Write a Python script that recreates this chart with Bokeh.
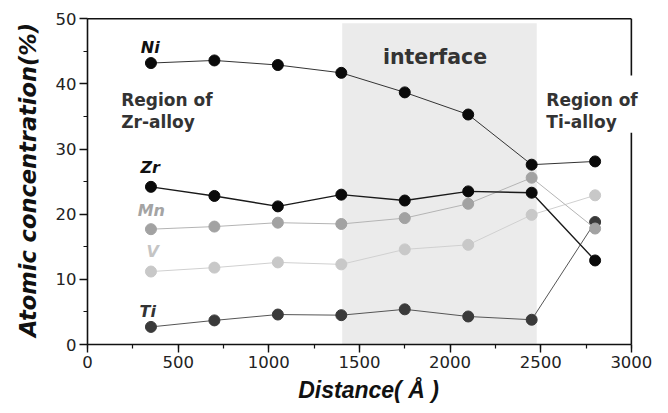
from bokeh.plotting import figure
from bokeh.models import Range1d, Label, BoxAnnotation, SingleIntervalTicker
from bokeh.embed import file_html
from bokeh.resources import INLINE

# ---- data ----
distance = [350, 700, 1050, 1400, 1750, 2100, 2450, 2800]
ni = [43.2, 43.6, 42.9, 41.7, 38.7, 35.3, 27.6, 28.1]
zr = [24.2, 22.8, 21.2, 23.0, 22.1, 23.5, 23.3, 12.9]
mn = [17.7, 18.1, 18.7, 18.5, 19.4, 21.6, 25.6, 17.8]
v = [11.2, 11.8, 12.6, 12.3, 14.6, 15.3, 19.9, 22.9]
ti = [2.7, 3.7, 4.6, 4.5, 5.4, 4.3, 3.8, 18.8]
interface_start, interface_end = 1405, 2478
series_names = ["Ti", "V", "Mn", "Zr", "Ni"]
series_values = [ti, v, mn, zr, ni]
x_max, y_max = 3000, 50

# ---- styles ----
marker_colors = {"Ni": "#0a0a0a", "Zr": "#0a0a0a", "Mn": "#a2a2a2", "V": "#c8c8c8", "Ti": "#3a3a3a"}
line_colors = {"Ni": "#333333", "Zr": "#1a1a1a", "Mn": "#b4b4b4", "V": "#d0d0d0", "Ti": "#555555"}
line_widths = {"Ni": 1.0, "Zr": 1.4, "Mn": 1.0, "V": 1.0, "Ti": 1.0}
label_colors = {"Ni": "#111111", "Zr": "#111111", "Mn": "#a4a4a4", "V": "#c4c4c4", "Ti": "#333333"}
label_pos = {"Ni": (346, 45.6), "Zr": (346, 27.1), "Mn": (352, 20.6), "V": (360, 14.3), "Ti": (332, 5.1)}

p = figure(width=660, height=405, output_backend="svg", toolbar_location=None,
           x_range=Range1d(0, 3100), y_range=Range1d(0, 50.5),
           min_border_left=87, min_border_right=11, min_border_top=15, min_border_bottom=59)
p.background_fill_color = "white"
p.border_fill_color = "white"
p.grid.visible = False
p.outline_line_color = None

# interface shading
p.add_layout(BoxAnnotation(left=interface_start, right=interface_end, bottom=0, top=49.3,
                           fill_color="#ebebeb", fill_alpha=1.0, line_color=None, level="underlay"))

# top and right frame lines (right one interrupted by the Ti-alloy text)
p.segment(x0=[0, x_max, x_max], y0=[y_max, 0, 41.3], x1=[x_max, x_max, x_max], y1=[y_max, 32.5, y_max],
          line_color="#111111", line_width=1.6)

for name, vals in zip(series_names, series_values):
    p.line(distance, vals, line_color=line_colors[name], line_width=line_widths[name])
    p.scatter(distance, vals, size=11, fill_color=marker_colors[name], line_color=marker_colors[name])

for name in series_names:
    x, y = label_pos[name]
    p.add_layout(Label(x=x, y=y, text=name, text_font="DejaVu Sans", text_font_style="bold italic",
                       text_font_size="16px", text_color=label_colors[name],
                       text_align="center", text_baseline="middle"))

# region texts
region_font = dict(text_font="DejaVu Sans", text_font_style="bold", text_font_size="17px",
                   text_color="#333333", text_baseline="alphabetic")
p.add_layout(Label(x=186, y=37.5, text="Region of", **region_font))
p.add_layout(Label(x=186, y=34.1, text="Zr-alloy", **region_font))
p.add_layout(Label(x=2531, y=37.5, text="Region of", **region_font))
p.add_layout(Label(x=2531, y=34.1, text="Ti-alloy", **region_font))
p.add_layout(Label(x=1917, y=44.1, text="interface", text_font="DejaVu Sans", text_font_style="bold",
                   text_font_size="20.5px", text_color="#333333", text_align="center",
                   text_baseline="alphabetic"))

# axes
p.xaxis.ticker = SingleIntervalTicker(interval=500, num_minor_ticks=2)
p.yaxis.ticker = SingleIntervalTicker(interval=10, num_minor_ticks=2)
p.xaxis.bounds = (0, x_max)
p.yaxis.bounds = (0, y_max)
for ax in (p.xaxis[0], p.yaxis[0]):
    ax.axis_line_width = 1.6
    ax.axis_line_color = "#111111"
    ax.major_tick_line_color = "#111111"
    ax.minor_tick_line_color = "#111111"
    ax.major_tick_line_width = 1.4
    ax.minor_tick_line_width = 1.2
    ax.major_tick_in = 0
    ax.major_tick_out = 8
    ax.minor_tick_in = 0
    ax.minor_tick_out = 4
    ax.major_label_text_font = "DejaVu Sans"
    ax.major_label_text_font_size = "16.5px"
    ax.major_label_text_color = "#222222"
    ax.major_label_standoff = 3
    ax.axis_label_text_font_style = "bold italic"
    ax.axis_label_text_color = "#111111"

p.xaxis.axis_label = "Distance( Å )"
p.xaxis.axis_label_text_font = "Liberation Sans"
p.xaxis.axis_label_text_font_size = "23px"
p.xaxis.axis_label_standoff = 6
p.yaxis.axis_label = "Atomic concentration(%)"
p.yaxis.axis_label_text_font = "DejaVu Sans"
p.yaxis.axis_label_text_font_size = "22.5px"
p.yaxis.axis_label_standoff = 12

open("out.html", "w").write(file_html(p, INLINE))
